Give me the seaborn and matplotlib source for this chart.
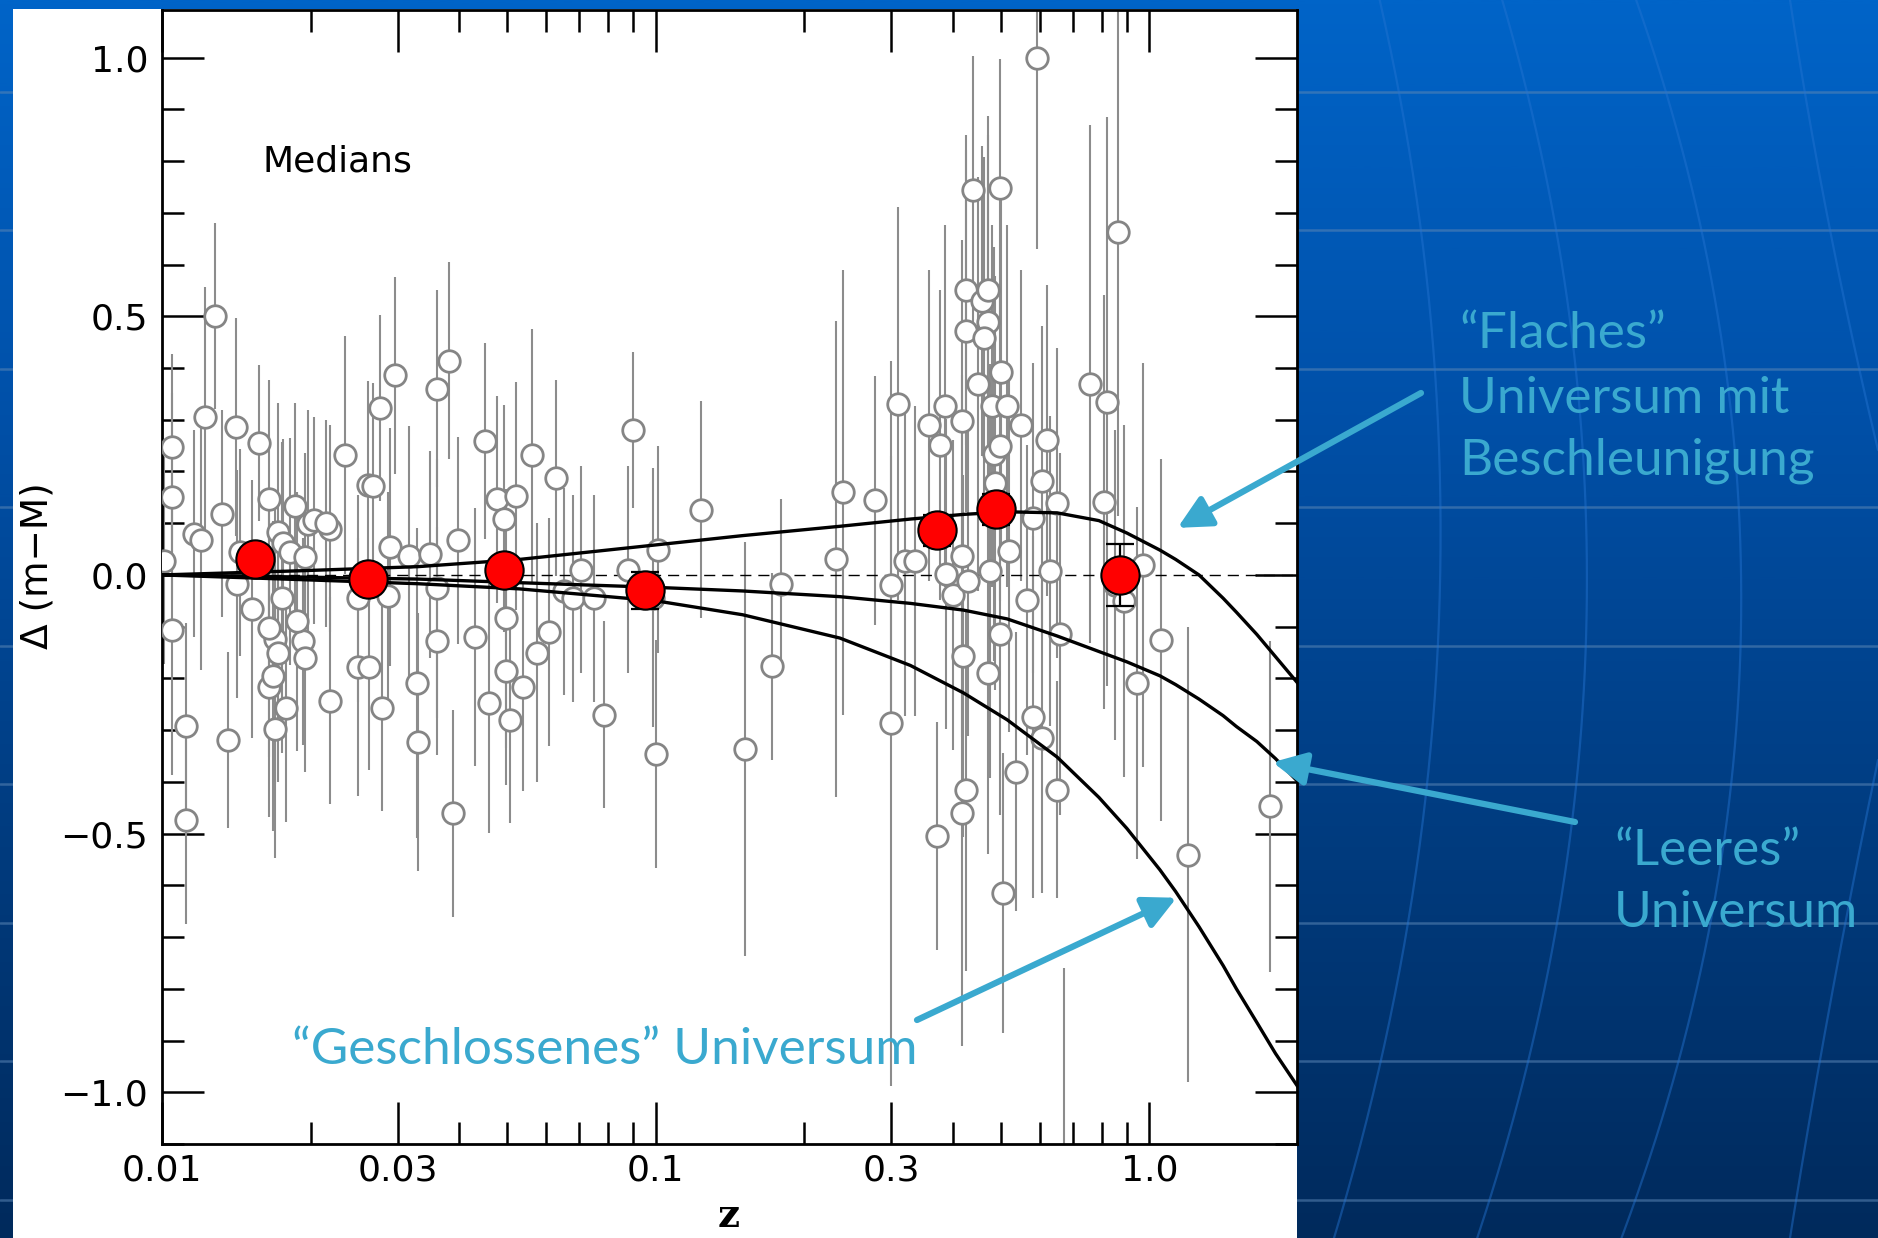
import numpy as np
import pandas as pd
import matplotlib
matplotlib.use("Agg")
import matplotlib.pyplot as plt
from matplotlib.patches import Rectangle
from matplotlib.colors import LinearSegmentedColormap
from matplotlib.ticker import FixedLocator, FixedFormatter, NullFormatter, MultipleLocator
import seaborn as sns

# ---------------------------------------------------------------------------
# Individual supernovae: redshift, distance-modulus residual and 1-sigma error
sn_z = [0.0105, 0.0105, 0.0105, 0.0101, 0.0112, 0.0112, 0.0122, 0.0128, 0.0116, 0.0120,
        0.0132, 0.0136, 0.0141, 0.0144, 0.0142, 0.0152, 0.0157, 0.0169, 0.0165, 0.0165,
        0.0169, 0.0172, 0.0175, 0.0168, 0.0178, 0.0186, 0.0193, 0.0198, 0.0203, 0.0219,
        0.0215, 0.0219, 0.0235, 0.0249, 0.0263, 0.0261, 0.0267, 0.0249, 0.0276, 0.0279,
        0.0289, 0.0287, 0.0297, 0.0316, 0.0328, 0.0330, 0.0349, 0.0360, 0.0360, 0.0360,
        0.0381, 0.0388, 0.0397, 0.0176, 0.0165, 0.0182, 0.0195, 0.0188, 0.0172, 0.0195,
        0.0430, 0.0450, 0.0460, 0.0477, 0.0493, 0.0498, 0.0498, 0.0506, 0.0521, 0.0538,
        0.0561, 0.0576, 0.0609, 0.0627, 0.0651, 0.0679, 0.0707, 0.0750, 0.0787, 0.0878,
        0.0899, 0.0989, 0.1003, 0.1010, 0.1237, 0.1514, 0.1717, 0.1797, 0.232, 0.239,
        0.278, 0.300, 0.300, 0.309, 0.320, 0.335, 0.357, 0.372, 0.385, 0.376,
        0.388, 0.400, 0.418, 0.420, 0.418, 0.426, 0.430, 0.418, 0.426, 0.426,
        0.4385, 0.450, 0.470, 0.470, 0.463, 0.457, 0.471, 0.479, 0.484, 0.486,
        0.497, 0.475, 0.497, 0.500, 0.506, 0.515, 0.498, 0.520, 0.537, 0.550,
        0.565, 0.580, 0.580, 0.593, 0.607, 0.607, 0.620, 0.630, 0.650, 0.650,
        0.658, 0.670, 0.757, 0.820, 0.810, 0.862, 0.850, 0.890, 0.943, 0.969,
        1.057, 1.195, 1.751]
sn_dm = [0.247, 0.151, -0.106, 0.027, -0.292, -0.474, 0.306, 0.500, 0.080, 0.067,
         0.118, -0.319, 0.286, 0.044, -0.018, -0.066, 0.255, -0.124, -0.217, 0.147,
         -0.297, 0.083, -0.044, -0.195, -0.257, 0.133, -0.128, 0.098, 0.106, 0.089,
         0.100, -0.243, 0.231, -0.178, -0.178, 0.174, 0.171, -0.045, 0.323, -0.257,
         0.054, -0.040, 0.386, 0.037, -0.209, -0.323, 0.040, 0.360, -0.026, -0.128,
         0.414, -0.461, 0.067, 0.062, -0.102, 0.045, 0.035, -0.090, -0.150, -0.160,
         -0.120, 0.259, -0.248, 0.146, 0.109, -0.084, -0.186, -0.280, 0.153, -0.217,
         0.231, -0.150, -0.110, 0.187, -0.032, -0.045, 0.010, -0.045, -0.270, 0.010,
         0.280, -0.044, -0.346, 0.049, 0.126, -0.337, -0.177, -0.018, 0.031, 0.160,
         0.144, -0.020, -0.287, 0.331, 0.027, 0.027, 0.289, -0.505, 0.326, 0.251,
         0.002, -0.039, 0.036, -0.156, -0.460, -0.415, -0.011, 0.298, 0.471, 0.551,
         0.744, 0.369, -0.189, 0.488, 0.458, 0.530, 0.551, 0.326, 0.234, 0.178,
         -0.114, 0.008, 0.748, 0.392, -0.615, 0.326, 0.250, 0.046, -0.380, 0.289,
         -0.049, -0.274, 0.110, 1.000, -0.315, 0.181, 0.260, 0.008, 0.139, -0.415,
         -0.114, -1.300, 0.369, 0.335, 0.141, 0.663, -0.020, -0.050, -0.209, 0.019,
         -0.126, -0.541, -0.447]
sn_err = [0.18, 0.20, 0.28, 0.20, 0.20, 0.20, 0.25, 0.18, 0.20, 0.25,
          0.20, 0.17, 0.21, 0.20, 0.22, 0.25, 0.15, 0.28, 0.25, 0.23,
          0.25, 0.25, 0.30, 0.30, 0.22, 0.20, 0.20, 0.22, 0.20, 0.20,
          0.20, 0.20, 0.23, 0.25, 0.20, 0.20, 0.20, 0.20, 0.18, 0.20,
          0.23, 0.20, 0.19, 0.25, 0.30, 0.25, 0.20, 0.19, 0.25, 0.22,
          0.19, 0.20, 0.20, 0.20, 0.25, 0.22, 0.20, 0.25, 0.25, 0.22,
          0.25, 0.19, 0.25, 0.20, 0.22, 0.25, 0.22, 0.20, 0.22, 0.20,
          0.245, 0.25, 0.22, 0.19, 0.20, 0.20, 0.20, 0.20, 0.18, 0.20,
          0.15, 0.25, 0.22, 0.20, 0.21, 0.40, 0.18, 0.165, 0.46, 0.43,
          0.24, 0.25, 0.70, 0.38, 0.30, 0.30, 0.30, 0.22, 0.35, 0.30,
          0.30, 0.30, 0.35, 0.35, 0.45, 0.35, 0.30, 0.35, 0.35, 0.30,
          0.26, 0.40, 0.35, 0.40, 0.35, 0.30, 0.30, 0.35, 0.40, 0.40,
          0.35, 0.40, 0.25, 0.35, 0.27, 0.35, 0.30, 0.35, 0.27, 0.30,
          0.30, 0.35, 0.30, 0.37, 0.30, 0.30, 0.30, 0.30, 0.30, 0.21,
          0.35, 0.54, 0.50, 0.55, 0.40, 0.55, 0.30, 0.34, 0.34, 0.39,
          0.35, 0.44, 0.32]

# Binned medians
median_z = [0.01545, 0.0261, 0.0493, 0.0951, 0.371, 0.489, 0.870]
median_dm = [0.030, -0.007, 0.009, -0.030, 0.086, 0.127, 0.000]
median_err = [0.022, 0.020, 0.020, 0.035, 0.030, 0.030, 0.060]

# Model curves relative to the reference (dashed) line
model_z = [0.01, 0.019, 0.033, 0.053, 0.1, 0.15, 0.236, 0.328, 0.42, 0.515,
           0.65, 0.79, 0.9, 1.05, 1.13, 1.26, 1.41, 1.5, 1.65, 1.8, 2.0]
flat_lambda = [0.0, 0.008, 0.016, 0.030, 0.058, 0.076, 0.094, 0.108, 0.117, 0.122,
               0.120, 0.105, 0.081, 0.048, 0.030, 0.0, -0.045, -0.072, -0.115, -0.158, -0.21]
empty_model = [0.0, -0.004, -0.008, -0.015, -0.024, -0.031, -0.042, -0.055, -0.068, -0.085,
               -0.118, -0.148, -0.168, -0.195, -0.212, -0.240, -0.272, -0.293, -0.322, -0.355, -0.40]
closed_model = [0.0, -0.009, -0.017, -0.027, -0.050, -0.077, -0.122, -0.175, -0.228, -0.280,
                -0.352, -0.430, -0.490, -0.570, -0.612, -0.680, -0.755, -0.800, -0.865, -0.925, -0.99]

# Axis ticks
x_ticks = [0.01, 0.03, 0.1, 0.3, 1.0]
x_tick_labels = ["0.01", "0.03", "0.1", "0.3", "1.0"]
x_minor_ticks = [0.02, 0.04, 0.05, 0.06, 0.07, 0.08, 0.09,
                 0.2, 0.4, 0.5, 0.6, 0.7, 0.8, 0.9]
y_ticks = [-1.0, -0.5, 0.0, 0.5, 1.0]
y_tick_labels = ["\u22121.0", "\u22120.5", "0.0", "0.5", "1.0"]

# Annotation texts
label_flat = ["\u201cFlaches\u201d", "Universum mit", "Beschleunigung"]
label_empty = ["\u201cLeeres\u201d", "Universum"]
label_closed = "\u201cGeschlossenes\u201d Universum"

# ---------------------------------------------------------------------------
sns.set_theme(style="ticks")
plt.rcParams["font.family"] = ["DejaVu Sans"]
plt.rcParams["axes.linewidth"] = 2.0

W, H = 1878, 1238
fig = plt.figure(figsize=(W / 100, H / 100), dpi=100)


def fpos(x, y_top):
    """Figure fraction from pixel position measured from the top-left corner."""
    return x / W, (H - y_top) / H


# Slide background: blue gradient with faint grid lines
bg = fig.add_axes([0, 0, 1, 1], zorder=-10)
grad = np.linspace(0, 1, 512)[:, None]
cmap = LinearSegmentedColormap.from_list("slide", ["#0064C8", "#0050A8", "#003C80", "#002A5C"])
bg.imshow(grad, aspect="auto", cmap=cmap, extent=[0, W, 0, H], origin="upper", zorder=0)
for yt in [92, 230, 369, 507, 646, 784, 923, 1061, 1200]:
    bg.plot([0, W], [H - yt, H - yt], color="#5B86B5", alpha=0.55, lw=1.8, zorder=1)

meridians = [
    [(1385, 0), (1414, 250), (1440, 550), (1438, 700), (1399, 1000), (1330, 1238)],
    [(1505, 0), (1552, 250), (1590, 550), (1590, 700), (1534, 1000), (1480, 1238)],
    [(1640, 0), (1695, 250), (1747, 550), (1745, 700), (1684, 1000), (1625, 1238)],
    [(1790, 0), (1834, 250), (1878, 450)],
    [(1878, 760), (1834, 983), (1790, 1238)],
]
for pts in meridians:
    xs = np.array([p[0] for p in pts], float)
    ys = np.array([p[1] for p in pts], float)
    deg = min(2, len(xs) - 1)
    coef = np.polyfit(ys, xs, deg)
    yy = np.linspace(ys.min(), ys.max(), 200)
    bg.plot(np.polyval(coef, yy), H - yy, color="#2474D2", alpha=0.45, lw=1.6, zorder=1)

bg.add_patch(Rectangle((13, 0), 1297 - 13, H - 9, facecolor="white", edgecolor="none", zorder=2))
bg.set_xlim(0, W)
bg.set_ylim(0, H)
bg.axis("off")

# Main plot
ax = fig.add_axes([162 / W, (H - 1144) / H, (1297 - 162) / W, (1144 - 10) / H])
ax.set_facecolor("white")

sn = pd.DataFrame({"z": sn_z, "dm": sn_dm, "err": sn_err})
med = pd.DataFrame({"z": median_z, "dm": median_dm, "err": median_err})

ax.errorbar(sn["z"], sn["dm"], yerr=sn["err"], fmt="none", ecolor="#8C8C8C",
            elinewidth=1.5, zorder=2)
ax.axhline(0.0, color="black", lw=1.0, ls=(0, (8, 5)), zorder=2.5)
sns.scatterplot(data=sn, x="z", y="dm", ax=ax, marker="o", s=240, color="white",
                edgecolor="#858585", linewidth=2.0, zorder=3, legend=False)

models = pd.DataFrame({"z": model_z, "flat": flat_lambda, "empty": empty_model,
                       "closed": closed_model})
for col in ["flat", "empty", "closed"]:
    sns.lineplot(data=models, x="z", y=col, ax=ax, color="black", lw=2.4,
                 sort=False, estimator=None, zorder=4)

ax.errorbar(med["z"], med["dm"], yerr=med["err"], fmt="none", ecolor="black",
            elinewidth=1.6, capsize=10, capthick=1.6, zorder=5)
sns.scatterplot(data=med, x="z", y="dm", ax=ax, marker="o", s=760, color="#FF0000",
                edgecolor="black", linewidth=1.5, zorder=6, legend=False)

ax.text(0.016, 0.80, "Medians", fontsize=26, va="center", ha="left", color="black")

ax.set_xscale("log")
ax.set_xlim(0.01, 1.99)
ax.set_ylim(-1.10, 1.092)
ax.xaxis.set_major_locator(FixedLocator(x_ticks))
ax.xaxis.set_major_formatter(FixedFormatter(x_tick_labels))
ax.xaxis.set_minor_locator(FixedLocator(x_minor_ticks))
ax.xaxis.set_minor_formatter(NullFormatter())
ax.yaxis.set_major_locator(FixedLocator(y_ticks))
ax.yaxis.set_major_formatter(FixedFormatter(y_tick_labels))
ax.yaxis.set_minor_locator(MultipleLocator(0.1))
ax.tick_params(which="both", direction="in", top=True, right=True, width=1.8,
               color="black", labelcolor="black")
ax.tick_params(which="major", length=30)
ax.tick_params(which="minor", length=16)
ax.tick_params(axis="x", which="major", pad=7, labelsize=26)
ax.tick_params(axis="y", which="major", pad=10, labelsize=26)
for sp in ax.spines.values():
    sp.set_color("black")
    sp.set_linewidth(2.0)

ax.set_ylabel("\u0394 (m\u2212M)", fontsize=27, color="black")
ax.yaxis.set_label_coords(-0.094, 0.51)
ax.set_xlabel("z", fontsize=28, fontweight="bold", family="DejaVu Serif", color="black",
              va="bottom")
ax.xaxis.set_label_coords(0.499, (1144 - 1235) / 1134)

# Annotations
cyan = "#3AA9CF"
note_font = ["Lato", "DejaVu Sans"]
for txt, base in zip(label_flat, [348, 413, 475]):
    fig.text(*fpos(1459, base), txt, fontsize=37, color=cyan, family=note_font,
             ha="left", va="baseline")
for txt, base in zip(label_empty, [865, 927]):
    fig.text(*fpos(1614, base), txt, fontsize=37, color=cyan, family=note_font,
             ha="left", va="baseline")
fig.text(*fpos(292, 1064), label_closed, fontsize=37, color=cyan, family=note_font,
         ha="left", va="baseline", zorder=10)

arrow_style = dict(arrowstyle="-|>,head_length=0.9,head_width=0.45", color=cyan, lw=4.5,
                   mutation_scale=22, shrinkA=0, shrinkB=0)
for tip, tail in [((1.14, 0.091), (1421, 393)),
                  ((1.776, -0.362), (1575, 822)),
                  ((1.135, -0.624), (917, 1020))]:
    ax.annotate("", xy=tip, xycoords="data", xytext=fpos(*tail),
                textcoords="figure fraction", arrowprops=arrow_style,
                annotation_clip=False, zorder=8)

fig.savefig("out.png", dpi=100)
